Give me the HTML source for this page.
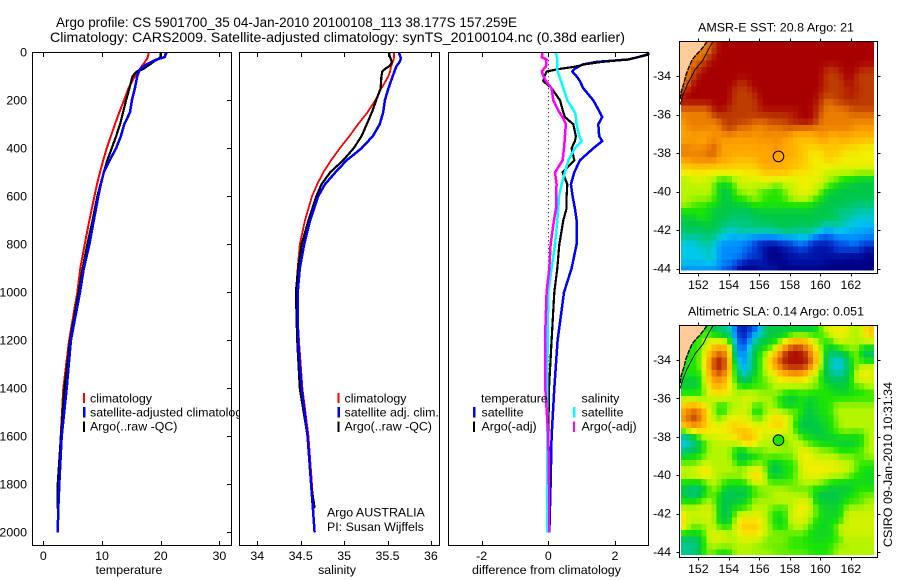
<!DOCTYPE html>
<html lang="en">
<head>
<meta charset="utf-8">
<title>Argo profile</title>
<style>
html,body{margin:0;padding:0;background:#fff;width:900px;height:580px;overflow:hidden}
svg{display:block;font-family:"Liberation Sans",sans-serif;font-size:12.4px;fill:#000}
.frame{fill:none;stroke:#000;stroke-width:1}
.bg{fill:#fff;stroke:none}
.prof{fill:none;stroke-linejoin:round;shape-rendering:crispEdges}
.tick{stroke:#000;stroke-width:1;shape-rendering:crispEdges}
</style>
</head>
<body>
<svg id="chart" xmlns="http://www.w3.org/2000/svg" width="900" height="580" viewBox="0 0 900 580">
  <defs>
    <clipPath id="clipSst"><rect x="680" y="42" width="197" height="231"/></clipPath>
    <clipPath id="clipSla"><rect x="680" y="326" width="197" height="231"/></clipPath>
  </defs>
  <rect width="900" height="580" fill="#fff"/>
  <text x="56" y="27" font-size="14" textLength="461" lengthAdjust="spacingAndGlyphs">Argo profile: CS 5901700_35 04-Jan-2010 20100108_113 38.177S 157.259E</text>
  <text x="50" y="42" font-size="14" textLength="575" lengthAdjust="spacingAndGlyphs">Climatology: CARS2009. Satellite-adjusted climatology: synTS_20100104.nc (0.38d earlier)</text>

  <g id="tempPanel">
    <rect class="bg" x="32.5" y="52.5" width="199" height="493"/>
    <g id="tempLines"></g>
    <rect class="frame" x="32.5" y="52.5" width="199" height="493"/>
    <g id="tempAxes"></g>
    <text x="129" y="574" text-anchor="middle">temperature</text>
    <g>
      <rect x="83" y="393" width="2" height="10" fill="#f00"/>
      <text x="90" y="402.5">climatology</text>
      <rect x="83" y="407" width="2.5" height="10.5" fill="#00f"/>
      <text x="90" y="416.5">satellite-adjusted climatology</text>
      <rect x="83" y="421.5" width="2" height="10.5" fill="#000"/>
      <text x="90" y="430.5">Argo(..raw -QC)</text>
    </g>
  </g>

  <g id="salPanel">
    <rect class="bg" x="239.5" y="52.5" width="208" height="493"/>
    <g id="salLines"></g>
    <rect class="frame" x="239.5" y="52.5" width="200" height="493"/>
    <g id="salAxes"></g>
    <text x="337" y="574" text-anchor="middle">salinity</text>
    <g>
      <rect x="337.5" y="393" width="2" height="10" fill="#f00"/>
      <text x="344.5" y="402.5">climatology</text>
      <rect x="337.5" y="407" width="2.5" height="10.5" fill="#00f"/>
      <text x="344.5" y="416.5">satellite adj. clim.</text>
      <rect x="337.5" y="421.5" width="2" height="10.5" fill="#000"/>
      <text x="344.5" y="430.5">Argo(..raw -QC)</text>
    </g>
    <text x="327" y="516.5">Argo AUSTRALIA</text>
    <text x="327" y="531">PI: Susan Wijffels</text>
  </g>

  <g id="diffPanel">
    <rect class="bg" x="448.5" y="52.5" width="200" height="493"/>
    <g id="diffLines"></g>
    <rect class="frame" x="448.5" y="52.5" width="200" height="493"/>
    <g id="diffAxes"></g>
    <text x="472" y="574" textLength="149" lengthAdjust="spacingAndGlyphs">difference from climatology</text>
    <g>
      <text x="481" y="402.5">temperature</text>
      <rect x="473" y="407" width="2.5" height="10.5" fill="#00f"/>
      <text x="481.5" y="416.5">satellite</text>
      <rect x="473" y="421.5" width="2" height="10.5" fill="#000"/>
      <text x="481.5" y="430.5">Argo(-adj)</text>
      <text x="581.5" y="402.5">salinity</text>
      <rect x="573" y="407" width="2.5" height="10.5" fill="#0ff"/>
      <text x="581.5" y="416.5">satellite</text>
      <rect x="573" y="421.5" width="2" height="10.5" fill="#f0f"/>
      <text x="581.5" y="430.5">Argo(-adj)</text>
    </g>
  </g>

  <g id="sstMap">
    <text x="698" y="31.5" textLength="156" lengthAdjust="spacingAndGlyphs">AMSR-E SST: 20.8 Argo: 21</text>
    <g id="sstCells"></g>
    <g id="sstOverlay" clip-path="url(#clipSst)"></g>
    <rect class="frame" x="679.5" y="41.5" width="198" height="232"/>
    <g id="sstAxes"></g>
  </g>

  <g id="slaMap">
    <text x="688" y="315.5" textLength="176" lengthAdjust="spacingAndGlyphs">Altimetric SLA: 0.14 Argo: 0.051</text>
    <g id="slaCells"></g>
    <g id="slaOverlay" clip-path="url(#clipSla)"></g>
    <rect class="frame" x="679.5" y="325.5" width="198" height="232"/>
    <g id="slaAxes"></g>
  </g>

  <text transform="translate(892,547) rotate(-90)" textLength="165" lengthAdjust="spacingAndGlyphs">CSIRO 09-Jan-2010 10:31:34</text>
</svg>

<script>
// ---- profile data ----
const profileDepths = [0,10,20,30,40,50,60,70,80,100,150,200,250,300,350,400,450,500,550,600,700,800,900,1000,1200,1400,1600,1800,1900,2000];
const tempClimatology = [17.95,17.9,17.8,17.6,17.3,17.0,16.7,16.45,16.2,15.6,14.5,13.75,12.95,12.2,11.5,10.8,10.2,9.66,9.15,8.7,7.85,7.05,6.3,5.8,4.4,3.4,2.96,2.55,2.5,2.45];
const tempSatellite = [21.0,20.8,20.7,19.3,18.4,17.6,17.0,16.5,16.3,16.0,15.6,15.1,14.77,13.8,13.2,12.4,11.3,10.3,9.8,9.37,8.6,7.85,6.9,6.25,4.7,3.98,3.13,2.73,2.55,2.45];
const tempArgo = [20.0,20.0,20.0,19.4,18.74,18.2,17.6,17.0,15.9,15.2,14.66,14.1,13.6,13.07,12.4,11.65,10.9,10.3,9.75,9.2,8.4,7.5,6.7,6.0,4.55,3.6,3.0,2.45,2.45];
const salClimatology = [35.575,35.575,35.575,35.57,35.56,35.55,35.54,35.535,35.53,35.51,35.43,35.36,35.27,35.16,35.06,34.95,34.85,34.76,34.69,34.63,34.55,34.49,34.465,34.445,34.48,34.52,34.59,34.63,34.645,34.66];
const salSatellite = [35.63,35.64,35.65,35.65,35.64,35.62,35.6,35.59,35.58,35.56,35.51,35.47,35.45,35.41,35.33,35.2,35.03,34.9,34.78,34.7,34.61,34.54,34.49,34.465,34.47,34.51,34.58,34.62,34.64,34.66];
const salArgo = [35.52,35.52,35.53,35.54,35.55,35.54,35.51,35.47,35.44,35.43,35.42,35.37,35.32,35.26,35.2,35.11,34.99,34.84,34.74,34.68,34.59,34.51,34.47,34.445,34.46,34.49,34.58,34.62,34.66];

const diffDepths = [0,10,20,30,40,50,60,70,80,100,120,150,200,250,270,300,350,370,400,450,500,550,600,650,700,800,900,1000,1200,1400,1600,1800,2000];
const diffTempSatellite = [3.0,2.95,2.7,2.4,1.45,1.05,0.9,0.78,0.72,0.85,0.95,1.05,1.35,1.55,1.62,1.5,1.53,1.62,1.35,0.95,0.78,0.68,0.73,0.8,0.85,0.85,0.7,0.47,0.28,0.18,0.1,0.07,0.03];
const diffTempArgo = [3.0,3.0,2.7,2.4,1.6,1.1,0.8,0.3,-0.05,-0.12,-0.15,0.1,0.35,0.45,0.5,0.75,0.83,0.8,0.7,0.78,0.43,0.57,0.55,0.55,0.45,0.33,0.27,0.18,0.1,0.02,0.0,0.05];
const diffSalSatellite = [0.2,0.25,0.26,0.27,0.27,0.27,0.27,0.27,0.28,0.33,0.38,0.45,0.57,0.8,0.83,0.85,0.93,1.0,0.8,0.6,0.5,0.4,0.32,0.3,0.27,0.2,0.1,0.0,-0.02,-0.03,-0.03,-0.03,-0.03];
const diffSalArgo = [-0.17,-0.18,-0.2,-0.05,-0.06,-0.07,-0.07,-0.14,-0.2,-0.14,-0.07,0.1,0.15,0.33,0.43,0.53,0.5,0.49,0.47,0.43,0.2,0.25,0.23,0.23,0.17,0.07,0.03,-0.05,-0.1,-0.09,0.0,0.02,0.02];

// ---- tick labels ----
const depthTicks = [0,200,400,600,800,1000,1200,1400,1600,1800,2000];
const tempTicks = [0,10,20,30];
const salTicks = [34,34.5,35,35.5,36];
const diffTicks = [-2,0,2];
const lonTicks = [152,154,156,158,160,162];
const latTicks = [-34,-36,-38,-40,-42,-44];

// ---- float position ----
const floatLon = 157.259;
const floatLat = -38.177;
const floatSlaLevel = 7;

// ---- coastline ----
const coastLon = [152.57,152.37,152.11,151.85,151.59,151.39,151.19,151.06,150.87,150.80];
const coastLat = [-32.21,-32.44,-32.70,-32.91,-33.17,-33.53,-33.95,-34.36,-34.83,-35.25];
const shelfLon = [152.96,152.64,152.31,151.78,151.26,151.0,150.8];
const shelfLat = [-32.21,-32.65,-33.17,-33.69,-34.47,-34.99,-35.5];

// ---- SST colour levels (0 coldest .. 14 warmest), rows north to south ----
const sstLevels = [
[12,12,12,12,12,12,13,14,14,14,14,14,14,14,14,14,14,14,14,14,14,14,14,14,14,14,14,14,14,14,14,14,14,14,14,14,14,14],
[12,12,12,12,12,12,13,14,14,14,14,14,14,14,14,14,14,14,14,14,14,14,14,14,14,14,14,14,14,14,14,14,14,14,14,14,14,14],
[12,12,12,12,12,13,14,14,14,14,14,14,14,14,14,14,14,14,14,14,14,14,14,14,14,14,14,14,14,14,14,14,14,14,14,14,14,14],
[12,12,12,13,13,14,14,14,14,14,14,14,14,14,14,14,14,14,14,14,14,14,14,14,14,14,14,14,14,14,14,14,14,14,14,14,14,14],
[12,12,13,13,14,14,14,14,14,14,14,14,14,14,14,14,14,14,14,14,14,14,14,14,14,14,14,14,13,13,13,14,14,14,14,13,13,13],
[12,12,13,14,14,14,14,14,14,14,14,14,14,14,14,14,14,14,14,14,14,14,14,14,14,14,14,14,13,13,13,13,14,14,13,13,13,13],
[12,12,14,14,14,14,14,14,14,14,14,13,13,14,14,14,14,14,14,14,14,14,14,14,14,14,14,14,13,13,13,13,14,14,13,13,13,13],
[12,14,14,14,14,14,14,14,14,14,13,13,13,13,14,14,14,14,14,14,14,14,14,14,14,14,14,14,13,13,13,13,13,13,14,13,13,13],
[14,14,14,14,14,14,14,14,14,14,13,13,13,13,13,14,14,14,14,14,14,14,14,14,14,14,14,13,13,13,13,13,14,14,13,13,13,13],
[14,14,14,14,14,14,14,14,14,14,13,13,13,13,13,14,14,14,14,14,14,14,14,14,14,14,14,13,12,12,13,13,13,13,13,13,13,13],
[12,12,12,12,12,12,14,14,14,13,13,13,13,13,13,13,14,14,14,14,14,14,14,14,14,14,13,13,12,12,12,12,12,13,13,13,13,13],
[12,12,12,12,12,12,13,13,13,13,13,13,13,13,13,14,13,13,13,13,13,13,13,14,14,14,14,12,12,12,12,12,12,12,12,12,12,12],
[11,12,12,12,12,12,12,12,13,13,13,13,13,13,12,12,12,13,13,13,13,14,14,14,14,14,13,12,12,12,12,12,12,12,12,12,12,12],
[11,12,12,12,12,12,11,12,13,13,13,12,12,12,12,12,12,12,12,12,12,12,12,12,12,12,12,12,12,12,12,12,12,12,11,11,11,11],
[11,11,11,11,11,11,12,11,12,12,12,11,12,12,11,11,12,12,11,12,12,12,11,11,11,11,11,12,11,11,11,11,11,11,11,11,11,11],
[11,11,12,11,11,11,12,11,11,11,11,11,11,11,11,12,11,11,12,11,11,10,10,10,10,10,10,11,11,10,10,11,11,10,10,10,10,10],
[12,12,11,11,12,12,13,12,11,11,11,11,11,11,11,11,11,11,12,11,11,11,11,10,10,10,10,10,10,10,10,10,9,10,10,9,9,9],
[12,12,12,12,12,12,13,11,11,11,11,11,11,11,11,11,11,11,11,11,11,11,11,10,10,9,9,9,10,10,10,10,9,9,9,9,9,9],
[11,11,12,12,12,12,12,11,11,11,10,10,10,10,10,11,11,11,11,11,10,10,10,10,10,9,9,9,10,10,9,9,9,9,9,9,9,9],
[10,10,10,10,10,10,10,10,10,10,10,10,10,10,10,11,11,11,11,11,11,11,11,10,10,10,9,9,9,9,9,9,9,9,9,9,9,9],
[9,9,9,9,9,9,9,9,9,9,9,9,9,9,9,9,10,10,10,10,10,9,9,9,9,9,9,9,8,8,8,8,8,8,8,8,8,8],
[8,8,9,9,9,8,8,7,7,7,8,8,9,9,9,9,9,9,9,9,9,9,9,9,9,9,9,9,8,8,8,7,7,7,6,6,6,6],
[8,8,8,8,8,8,8,6,7,6,8,8,8,8,8,8,8,8,7,7,8,8,8,9,9,9,8,8,8,7,7,6,6,6,6,6,6,6],
[8,8,8,8,8,8,8,6,6,6,7,8,8,8,8,7,7,7,7,7,8,8,9,9,9,9,8,8,6,6,6,6,6,6,6,6,6,6],
[8,8,8,8,8,8,7,7,6,6,7,7,7,8,8,8,7,7,7,7,7,8,8,8,8,8,7,7,6,6,6,6,6,6,6,6,6,6],
[8,8,7,7,7,7,7,6,6,6,6,6,6,6,7,7,7,7,7,7,7,7,7,7,7,7,6,6,6,6,6,6,6,5,5,5,5,5],
[7,7,7,7,7,6,6,6,6,6,6,6,6,6,6,6,6,6,6,6,6,6,6,6,6,6,6,6,6,6,5,5,5,5,5,5,5,5],
[6,6,6,7,7,7,6,6,6,6,5,5,5,5,6,6,6,6,6,6,6,6,6,6,6,6,6,6,6,6,6,5,5,5,4,4,4,4],
[6,6,6,6,6,6,6,6,5,5,5,6,5,6,5,6,5,6,6,6,6,6,6,6,6,6,6,5,5,5,5,5,4,4,4,4,4,4],
[5,6,6,5,6,6,6,5,5,4,4,5,5,5,5,5,5,5,5,5,6,6,5,5,5,5,5,4,3,3,4,4,4,4,3,4,3,3],
[5,5,4,5,5,5,5,4,4,4,3,4,3,3,3,3,3,3,3,3,3,3,3,4,4,4,2,3,2,3,3,3,3,3,3,3,3,3],
[4,4,4,5,5,5,5,3,3,3,3,3,3,3,2,1,1,1,1,2,2,2,3,3,2,2,1,1,1,1,2,2,2,3,3,2,2,2],
[4,4,4,4,4,4,4,3,3,3,3,3,2,2,2,1,1,0,0,0,1,1,1,2,2,1,1,1,1,1,2,2,2,2,2,1,1,1],
[4,4,4,4,4,5,5,3,3,3,3,3,3,2,2,2,1,0,0,0,1,1,1,1,1,1,1,1,1,1,1,1,1,0,1,1,0,0],
[4,4,4,4,4,4,4,3,3,3,2,2,1,1,1,1,1,0,1,0,0,1,1,1,1,1,1,1,0,0,0,0,0,0,0,0,0,0],
[3,3,3,3,3,3,3,3,2,2,2,0,0,0,0,1,1,1,1,0,0,0,0,0,0,0,0,0,0,0,0,0,0,0,0,0,0,0]
];

// ---- SLA colour levels on the same scale ----
const slaLevels = [
[7,7,7,7,7,7,6,5,5,5,3,1,1,2,2,3,6,6,6,6,6,6,6,6,6,6,6,8,8,9,9,9,9,8,8,8,10,10],
[7,7,7,7,7,7,6,6,6,5,3,1,1,2,4,4,6,6,6,6,6,7,7,7,7,7,7,7,8,8,10,9,9,8,8,8,10,10],
[7,7,7,7,8,9,10,9,8,8,4,2,2,3,5,6,6,6,7,7,9,10,11,11,11,10,8,7,7,7,8,8,8,8,8,8,9,9],
[7,7,7,7,8,9,10,11,11,10,5,2,2,4,6,6,7,7,8,10,12,13,13,13,12,11,9,8,7,6,7,8,8,8,8,7,6,6],
[7,7,7,7,9,10,12,13,12,11,4,3,3,5,6,7,8,9,10,12,13,14,14,14,13,12,10,8,6,5,5,5,6,7,8,6,5,5],
[7,7,7,7,9,11,13,14,13,11,6,3,3,4,7,7,8,10,12,13,14,14,14,14,14,13,11,8,6,4.5,4,4,5,7,8,7,6,7],
[7,7,7,7,9,11,13,14,13,11,7,4,3,4,6,7,8,10,11,12,13,13,13,13,13,12,10,8,6,4.5,4,4,5,7,7,9,9,9],
[7,7,7,7,8,11,12,13,12,10,7,5,4,5,7,7,8,8,9,10,11,12,12,12,11,9,8,7,6,4.5,4.5,4.5,5,7,8,9,9,8],
[6,6,6,6,8,10,11,12,11,9,7,6,5,6,7,7,8,8,9,9,9,9,9,9,9,8,8,7,6,6,6,6,6,7,9,9,9,9],
[6,6,6,6,8,9,11,10,10,9,8,7,7,7,7,7,7,7,8,8,8,8,8,8,8,8,8,7,7,6,6,6,6,7,7,7,8,8],
[7,7,7,7,8,9,10,10,10,9,8,8,8,8,8,8,8,8,8,8,7,7,7,7,7,7,7,7,7,7,6.5,6.5,6.5,6.5,7,7,7,7],
[8,8,8,7,7,8,8,8,8,8,8,8,9,9,9,8,8,8,7,7,6,6,6,7,7,6,6,7,7,7,7,7,7,7,7,7,7,7],
[10,10,11,10,10,8,8,7,7,8,8,8,9,8,7,7,8,8,8,7,6,6,6,7,6,6,7,7,7,7,8,8,8,8,8,8,8,8],
[11,12,13,12,11,9,8,6.5,6.5,8,8,8,8,8,6.5,6.5,8,8,8,8,8,8,8,8,6,6,6.5,6.5,6.5,7,8,8,8,8,8,8,8,8],
[11,13,13.5,13,11,9,8,7,8,9,9,9,9,9,7,7,8,9,10,10,9,8,7,6,6,6,6,7,7,7,8,8,8,8,8,8,8,8],
[11,11,12,11,10,9,9,9,9,10,10,9,9,9,9,9,9,9,10,10,9,8,7,6,6,6,6,6,6,6.5,7,8,8,8,8,8,8,8],
[7,8,10,10,10,9.5,9.5,9,9,9,10,10.5,10.5,10,9,9,9,9,9,9,9,8,7,6,6,6,6,6,7,7,8,8,8,8,8,8,8,8],
[4,5,5,7,8,8,8,9,9,9,9,10.5,10.5,10.5,10,9,8,8,8,7,8,8,9,7,7,7,6,6,6,6,6,6,7,6,6,6,8,8],
[3.5,4,5,6,7,8,8,8,8,8,8,8,10,10,10,8,8,8,8,8,7,8,8,9,7,7,7,7,6,6.5,6.5,6.5,6,6,7,7,8,8],
[5,5,5.5,5.5,7,8,8,8,8,8,7,6,6,7,7,7,8,8,8,8,8,8,8,9,9,9,8,8,8,8,7,6.5,6.5,7,7,7,8,8],
[7,7,7.5,7.5,8,8,8,8,8,8,7,5.5,5.5,6,7,7,7.5,7.5,7.5,7.5,7.5,7.5,7.5,9,9,9,8,8,8,8,8,8,8,8,7.5,7.5,8,8],
[7,7,7,7,8,8,8,8,8,8,8,6,7,7,7,7.5,7.5,6,6,6,7,7,7,9,9,9,9,9,9,9,9,8,8,8,7,7,7,7],
[9,8.5,8.5,9,10,9,8,8,8,8,8,8,8,9,9,9,8,6,6,6,7,7,7,8,9,9,9,9,9,9,9,9,9,8,8,7,7,6.5],
[8,8,9,9,10,10,8,8,8,8,8,8,8,9,10,10,8,6,6,6,6.5,6.5,8,8,9,9,9,9,9,8,8,8,8,7,7,6.5,6.5,6.5],
[7,7,7,6,7,7,8,8,7,7,7,7,7,8,9,9,8,7.5,7.5,7.5,7.5,7.5,7.5,8,8,8,8,8,7,7,7,6.5,6.5,6.5,6.5,6.5,6.5,6.5],
[6,5,5,5,6,8,8,8,6,6,6,6,6,6,7,7,8,8,8,8,8,7.5,7.5,7.5,7.5,7.5,6.5,6.5,6.5,6,6,6,6,6,7,7,7,7],
[6,5,5,5,7,7,7,7,5.5,5.5,6,6,6,6,7.5,7.5,7.5,7.5,8,8,8,8,8,7.5,7.5,7.5,6,6,6,6,6,6.5,6.5,6.5,7.5,7.5,7.5,7.5],
[7,7,7,7,8,8,8,6,6,6,6,6,6,8,8,8,8,8,8.5,8.5,8.5,8.5,8.5,9,9,9,6,6,6,6,6,6,7,7,7,7,8,8],
[8,8,8,8.5,8.5,8.5,8.5,6,6,6,7,7,7,7,8,8,8,8,7,7,7,7,9,9,9,8,8,6.5,6.5,6.5,6.5,6.5,8,8,8,8,8,8],
[9,8.5,8.5,8.5,8.5,8.5,8.5,6,6,6,7,8.5,8.5,8.5,8.5,8.5,8.5,7,7,7,7,9,9,9,9,8,8,6.5,6.5,6.5,6.5,6.5,8.5,8.5,8.5,8.5,8.5,8.5],
[10,8,8,8,8.5,8.5,8.5,6,6,6,8,9.5,9.5,9.5,9.5,9.5,8,8,6.5,6.5,6.5,8.5,8.5,8.5,8.5,8,6.5,6.5,6.5,6.5,6.5,6.5,8.5,8.5,8.5,8.5,8.5,8.5],
[10,7.5,7.5,7.5,7.5,8,8,7,7,7,8,10,10,10,10,10,8,8,6.5,6.5,6.5,8,8,8,8,7,7,6.5,6.5,6.5,8.5,8.5,8.5,8.5,8.5,8.5,8.5,8.5],
[7,7,7,7,7,9,9,9,9,8,8,9.5,9.5,9.5,9.5,9.5,8,8,8,8,8,7.5,7.5,7.5,7.5,6.5,6.5,6.5,6.5,6.5,6.5,8.5,8.5,8.5,8.5,8.5,8.5,8.5],
[5,5,5,5.5,7,8.5,8.5,8.5,8.5,8,8,8.5,8.5,8.5,8.5,8.5,7.5,7.5,7.5,7.5,7.5,7,7,7,7,6.5,6.5,6.5,6.5,7,7,7,8,8,8,8,8,8],
[5,5,5,5.5,7,8,8,8,8,8,8,8,8,8,7.5,7.5,7.5,7.5,7.5,7.5,7.5,7,7,7,7,7,7,7,7,7,8,8,8,8,8,8,8,8],
[5,5,5,6,7.5,7.5,7.5,6.5,6.5,6.5,8,8,8,8,8,8,8,8,7.5,7.5,7.5,7.5,7.5,7.5,7.5,7,7,7,7,7,8,8,8,8,8,8,8,8]
];

// ---- colour scale stops (level index to RGB) ----
const levelColors = [[0,0,130],[0,20,170],[0,70,220],[0,140,255],[0,200,235],[0,200,140],[0,200,70],[30,230,0],[180,245,0],[240,240,0],[255,200,0],[255,165,0],[235,125,0],[190,60,0],[168,0,0]];

// ---- helpers ----
const NS = 'http://www.w3.org/2000/svg';
function make(parent, tag, attrs, text) {
  const el = document.createElementNS(NS, tag);
  for (const k in attrs) el.setAttribute(k, attrs[k]);
  if (text !== undefined) el.textContent = text;
  parent.appendChild(el);
  return el;
}
function levelColor(v) {
  const lo = Math.max(0, Math.min(levelColors.length - 1, Math.floor(v)));
  const hi = Math.min(levelColors.length - 1, lo + 1);
  const f = Math.max(0, Math.min(1, v - lo));
  const c = levelColors[lo].map((a, i) => Math.round(a + (levelColors[hi][i] - a) * f));
  return 'rgb(' + c.join(',') + ')';
}
// Blend each cell with its neighbours so colour steps are gradual.
function blendedLevel(levels, j, i) {
  let sum = 0, weight = 0;
  for (let dj = -1; dj <= 1; dj++) {
    for (let di = -1; di <= 1; di++) {
      const row = levels[Math.max(0, Math.min(levels.length - 1, j + dj))];
      const v = row[Math.max(0, Math.min(row.length - 1, i + di))];
      const w = (dj === 0 ? 2 : 1) * (di === 0 ? 2 : 1);
      sum += v * w;
      weight += w;
    }
  }
  return sum / weight;
}
const depthY = d => 52.3 + d * 0.24;
const tempX = t => 43.3 + t * 5.87;
const salX = s => 257.3 + (s - 34) * 86.8;
const diffX = d => 548.3 + d * 33.3;

function drawLine(parent, depths, values, xFn, color, width, name) {
  const pts = values.map((v, i) => xFn(v).toFixed(1) + ',' + depthY(depths[i]).toFixed(1)).join(' ');
  const line = make(parent, 'polyline', {class: 'prof', points: pts, stroke: color, 'stroke-width': width});
  
  
}
function drawXTicks(parent, ticks, xFn) {
  ticks.forEach(t => {
    const x = Math.round(xFn(t)) + 0.5;
    const top = make(parent, 'line', {class: 'tick', x1: x, x2: x, y1: 52.5, y2: 57});
    
    
    const bottom = make(parent, 'line', {class: 'tick', x1: x, x2: x, y1: 541, y2: 545.5});
    
    
    const label = make(parent, 'text', {x: xFn(t), y: 560, 'text-anchor': 'middle'}, String(t));
    
    
  });
}
function drawDepthTicks(parent) {
  depthTicks.forEach(d => {
    const y = Math.round(depthY(d)) + 0.5;
    const tick = make(parent, 'line', {class: 'tick', x1: 227, x2: 231.5, y1: y, y2: y});
    
    
    const label = make(parent, 'text', {x: 27, y: depthY(d) + 4, 'text-anchor': 'end'}, String(d));
    
    
  });
}

function drawMap(cfg) {
  const lonX = lon => 698.3 + (lon - 152) * 15.25;
  const latY = lat => cfg.y34 - (lat + 34) * cfg.dy;
  const cellsG = document.getElementById(cfg.cells);
  cfg.levels.forEach((row, j) => {
    row.forEach((v, i) => {
      const x0 = lonX(150.87 + i / 3), x1 = lonX(150.87 + (i + 1) / 3);
      const y0 = latY(cfg.latTop - j / 3);
      const y1 = Math.min(latY(cfg.latTop - (j + 1) / 3), cfg.cellBottom);
      const cell = make(cellsG, 'rect', {x: x0.toFixed(2), y: y0.toFixed(2), width: (x1 - x0).toFixed(2), height: (y1 - y0).toFixed(2), fill: levelColor(blendedLevel(cfg.levels, j, i)), 'shape-rendering': 'crispEdges'});
      
      
    });
  });
  const ov = document.getElementById(cfg.overlay);
  const coastPts = coastLon.map((lon, i) => lonX(lon).toFixed(1) + ',' + latY(coastLat[i]).toFixed(1));
  const land = make(ov, 'polygon', {points: '679,' + latY(cfg.latTop).toFixed(1) + ' ' + coastPts.join(' ') + ' 679,' + latY(coastLat[coastLat.length - 1]).toFixed(1), fill: 'rgb(255,204,153)'});
  
  
  const coast = make(ov, 'polyline', {points: coastPts.join(' '), fill: 'none', stroke: '#000', 'stroke-width': 1.4, 'stroke-dasharray': '5 1'});
  
  
  const shelf = make(ov, 'polyline', {points: shelfLon.map((lon, i) => lonX(lon).toFixed(1) + ',' + latY(shelfLat[i]).toFixed(1)).join(' '), fill: 'none', stroke: '#000', 'stroke-width': 0.9});
  
  
  const marker = make(ov, 'circle', {cx: lonX(floatLon).toFixed(1), cy: latY(floatLat).toFixed(1), r: 5.3, fill: cfg.markerFill, stroke: '#000', 'stroke-width': 1});
  
  

  const ax = document.getElementById(cfg.axes);
  lonTicks.forEach(lon => {
    const x = Math.round(lonX(lon)) + 0.5;
    const t1 = make(ax, 'line', {class: 'tick', x1: x, x2: x, y1: cfg.top - 3, y2: cfg.top});
    
    
    const t2 = make(ax, 'line', {class: 'tick', x1: x, x2: x, y1: cfg.bottom, y2: cfg.bottom + 3});
    
    
    const label = make(ax, 'text', {x: lonX(lon), y: cfg.bottom + 15.5, 'text-anchor': 'middle'}, String(lon));
    
    
  });
  latTicks.forEach(lat => {
    const y = Math.round(latY(lat)) + 0.5;
    const t1 = make(ax, 'line', {class: 'tick', x1: 676.5, x2: 679.5, y1: y, y2: y});
    
    
    const t2 = make(ax, 'line', {class: 'tick', x1: 877.5, x2: 880.5, y1: y, y2: y});
    
    
    const label = make(ax, 'text', {x: 671, y: latY(lat) + 4, 'text-anchor': 'end'}, String(lat));
    
    
  });
}

// ---- draw profiles ----
const tempG = document.getElementById('tempLines');
drawLine(tempG, profileDepths, tempClimatology, tempX, '#f00', 2, 'temperature-climatology-line');
drawLine(tempG, profileDepths, tempArgo, tempX, '#000', 2.2, 'temperature-argo-line');
drawLine(tempG, profileDepths, tempSatellite, tempX, '#00f', 2.5, 'temperature-satellite-line');
drawXTicks(document.getElementById('tempAxes'), tempTicks, tempX);
drawDepthTicks(document.getElementById('tempAxes'));

const salG = document.getElementById('salLines');
drawLine(salG, profileDepths, salClimatology, salX, '#f00', 1.8, 'salinity-climatology-line');
drawLine(salG, profileDepths, salArgo, salX, '#000', 2.2, 'salinity-argo-line');
drawLine(salG, profileDepths, salSatellite, salX, '#00f', 2.5, 'salinity-satellite-line');
drawXTicks(document.getElementById('salAxes'), salTicks, salX);

const diffG = document.getElementById('diffLines');
const zeroLine = make(diffG, 'line', {x1: 548.5, x2: 548.5, y1: depthY(0), y2: depthY(2000), stroke: '#000', 'stroke-width': 1, 'stroke-dasharray': '1 3'});


drawLine(diffG, diffDepths, diffTempSatellite, diffX, '#00f', 2.5, 'difference-temperature-satellite-line');
drawLine(diffG, diffDepths, diffTempArgo, diffX, '#000', 2.2, 'difference-temperature-argo-line');
drawLine(diffG, diffDepths, diffSalSatellite, diffX, '#0ff', 2.5, 'difference-salinity-satellite-line');
drawLine(diffG, diffDepths, diffSalArgo, diffX, '#f0f', 2.5, 'difference-salinity-argo-line');
drawXTicks(document.getElementById('diffAxes'), diffTicks, diffX);

// ---- draw maps ----
drawMap({levels: sstLevels, prefix: 'sst', cells: 'sstCells', overlay: 'sstOverlay', axes: 'sstAxes', y34: 76, dy: 19.25, latTop: -32.2, cellBottom: 270.7, top: 41.5, bottom: 273.5, markerFill: 'none'});
drawMap({levels: slaLevels, prefix: 'sla', cells: 'slaCells', overlay: 'slaOverlay', axes: 'slaAxes', y34: 360, dy: 19.2, latTop: -32.2, cellBottom: 555, top: 325.5, bottom: 557.5, markerFill: levelColor(floatSlaLevel)});
</script>
</body>
</html>
